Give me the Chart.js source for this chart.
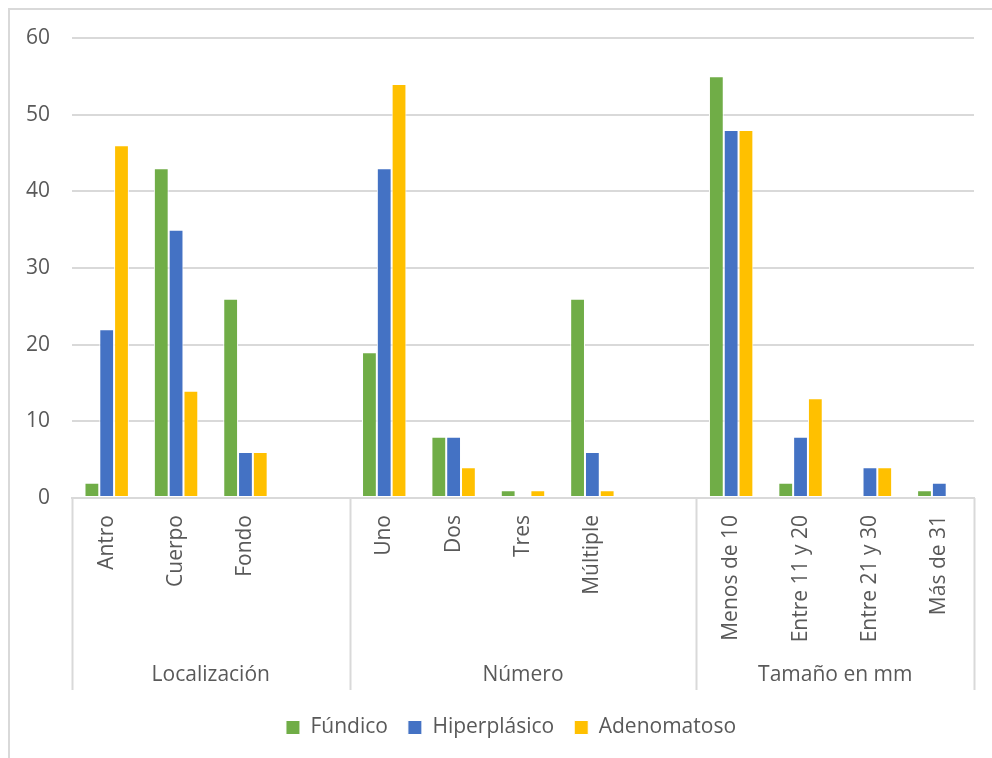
<!DOCTYPE html>
<html lang="es">
<head>
  <meta charset="UTF-8" />
  <title>Pólipos gástricos</title>
  <style>
    html, body {
      margin: 0;
      padding: 0;
      background: #fff;
      overflow: hidden;
    }

    #frame {
      position: absolute;
      left: 8px;
      top: 8px;
      width: 1100px;
      height: 900px;
      border-left: 2px solid #d9d9d9;
      border-top: 2px solid #d9d9d9;
    }

    #wrap {
      position: absolute;
      left: 0;
      top: 0;
      width: 992px;
      height: 758px;
    }
  </style>
</head>
<body>
  <div id="frame"></div>
  <div id="wrap"><canvas id="chart"></canvas></div>

  <script src="https://cdn.jsdelivr.net/npm/chart.js"></script>
  <script>
    // categories (empty strings are the spacer slots between groups)
    const categories = [
      'Antro', 'Cuerpo', 'Fondo', '',
      'Uno', 'Dos', 'Tres', 'Múltiple', '',
      'Menos de 10', 'Entre 11 y 20', 'Entre 21 y 30', 'Más de 31'
    ];
    const groups = ['Localización', 'Número', 'Tamaño en mm'];
    const groupStarts = [0, 4, 9, 13];

    const fundico      = [2, 43, 26, null, 19, 8, 1, 26, null, 55, 2, 0, 1];
    const hiperplasico = [22, 35, 6, null, 43, 8, 0, 6, null, 48, 8, 4, 2];
    const adenomatoso  = [46, 14, 6, null, 54, 4, 1, 1, null, 48, 13, 4, 0];

    const yTicks = [0, 10, 20, 30, 40, 50, 60];

    const textColor = '#595959';
    const lineColor = '#d9d9d9';
    const fontFamily = '"Open Sans", "Noto Sans", sans-serif';
    const fontSize = 21;

    // draws the group separators and group names under the rotated labels
    const groupAxis = {
      id: 'groupAxis',
      afterLayout(chart) {
        // the original frame is wider than the picture, so its legend sits a bit right of centre
        chart.legend.left += 24;
        chart.legend.right += 24;
      },
      afterDraw(chart) {
        const ctx = chart.ctx;
        const area = chart.chartArea;
        const slot = (area.right - area.left) / categories.length;
        const lineBottom = area.bottom + 192;

        ctx.save();
        ctx.strokeStyle = lineColor;
        ctx.lineWidth = 2;
        groupStarts.forEach(idx => {
          const x = Math.round(area.left + idx * slot) + 0.5;
          ctx.beginPath();
          ctx.moveTo(x, area.bottom);
          ctx.lineTo(x, lineBottom);
          ctx.stroke();
        });

        ctx.fillStyle = textColor;
        ctx.font = fontSize + 'px ' + fontFamily;
        ctx.textAlign = 'center';
        ctx.textBaseline = 'middle';
        groups.forEach((g, i) => {
          const mid = area.left + (groupStarts[i] + groupStarts[i + 1]) / 2 * slot;
          ctx.fillText(g, mid, area.bottom + 177);
        });
        ctx.restore();
      }
    };

    const dataset = (label, data, color) => ({
      label: label,
      data: data,
      backgroundColor: color,
      borderColor: '#ffffff',
      borderWidth: 1,
      borderSkipped: false,
      categoryPercentage: 0.64,
      barPercentage: 1
    });

    new Chart(document.getElementById('chart'), {
      type: 'bar',
      data: {
        labels: categories,
        datasets: [
          dataset('Fúndico', fundico, '#70ad47'),
          dataset('Hiperplásico', hiperplasico, '#4472c4'),
          dataset('Adenomatoso', adenomatoso, '#ffc000')
        ]
      },
      options: {
        responsive: true,
        maintainAspectRatio: false,
        animation: false,
        layout: {
          padding: { top: 38, right: 18, bottom: 10, left: 0 }
        },
        plugins: {
          tooltip: { enabled: false },
          legend: {
            position: 'bottom',
            labels: {
              color: textColor,
              font: { family: fontFamily, size: fontSize },
              boxWidth: 14,
              boxHeight: 14,
              padding: 20
            }
          }
        },
        scales: {
          x: {
            grid: { display: false, drawTicks: false },
            border: { display: true, color: lineColor, width: 2 },
            ticks: {
              color: textColor,
              font: { family: fontFamily, size: fontSize },
              minRotation: 90,
              maxRotation: 90,
              autoSkip: false,
              padding: 17
            },
            afterFit(scale) { scale.height = 199; }
          },
          y: {
            min: 0,
            max: 60,
            afterBuildTicks(scale) {
              scale.ticks = yTicks.map(v => ({ value: v }));
            },
            grid: { color: lineColor, lineWidth: 2, drawTicks: false },
            border: { display: false },
            ticks: {
              color: textColor,
              font: { family: fontFamily, size: fontSize },
              padding: 22
            },
            afterFit(scale) { scale.width = 72; }
          }
        }
      },
      plugins: [groupAxis]
    });
  </script>
</body>
</html>
